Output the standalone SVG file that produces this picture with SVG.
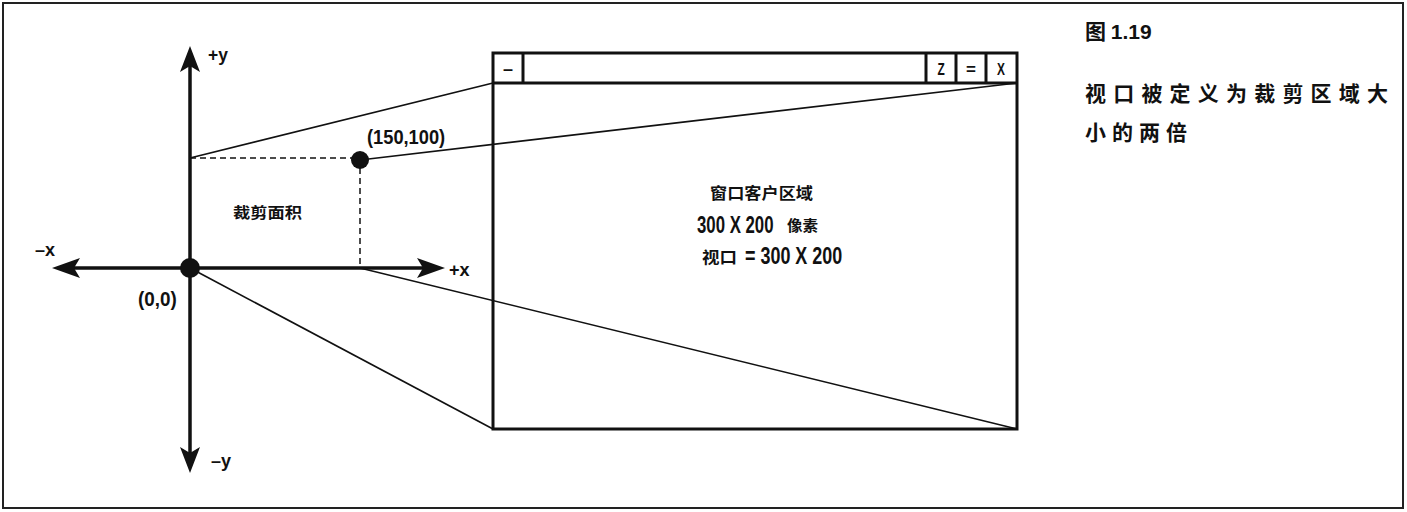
<svg xmlns="http://www.w3.org/2000/svg" width="1407" height="512" viewBox="0 0 1407 512">
<style>
.lbl{font-family:"Liberation Sans","DejaVu Sans",sans-serif;font-weight:bold;fill:#111}
.cjk{font-family:"Noto Sans CJK SC",sans-serif;font-weight:bold;fill:#111}
.axis{stroke:#111;stroke-width:3.5;fill:none}
.thin{stroke:#111;stroke-width:1.6;fill:none}
.dash{stroke:#111;stroke-width:1.5;stroke-dasharray:6,4;fill:none}
.win{stroke:#111;stroke-width:3;fill:#fff}
.head{fill:#111}
</style>
<rect x="0" y="0" width="1407" height="512" fill="#fff"/>
<rect x="3" y="3" width="1400" height="505" fill="none" stroke="#222" stroke-width="2"/>

<g id="window">
  <rect class="win" x="493" y="53" width="524" height="376"/>
  <line class="win" x1="493" y1="83" x2="1017" y2="83"/>
  <line class="win" x1="523" y1="53" x2="523" y2="83"/>
  <line class="win" x1="926" y1="53" x2="926" y2="83"/>
  <line class="win" x1="956" y1="53" x2="956" y2="83"/>
  <line class="win" x1="986" y1="53" x2="986" y2="83"/>
  <text class="lbl" x="508" y="75" font-size="18" text-anchor="middle">–</text>
  <text class="lbl" transform="translate(941,75) scale(0.7,1)" font-size="17" text-anchor="middle">Z</text>
  <text class="lbl" x="971" y="75" font-size="17" text-anchor="middle">=</text>
  <text class="lbl" transform="translate(1001,75) scale(0.7,1)" font-size="17" text-anchor="middle">X</text>
  <text class="cjk" x="710" y="199" font-size="16" textLength="103" lengthAdjust="spacingAndGlyphs">窗口客户区域</text>
  <text class="lbl" transform="translate(697,233) scale(0.73,1)" font-size="23">300 X 200</text>
  <text class="cjk" x="787" y="231" font-size="15" textLength="31" lengthAdjust="spacingAndGlyphs">像素</text>
  <text class="cjk" x="702" y="263" font-size="16" textLength="35" lengthAdjust="spacingAndGlyphs">视口</text>
  <text class="lbl" transform="translate(745,264) scale(0.78,1)" font-size="23">= 300 X 200</text>
</g>

<g id="connectors">
  <line class="thin" x1="190" y1="158" x2="493" y2="83"/>
  <line class="thin" x1="360" y1="160" x2="1017" y2="83"/>
  <line class="thin" x1="190" y1="268" x2="493" y2="429"/>
  <line class="thin" x1="360" y1="268" x2="1017" y2="429"/>
  <line class="dash" x1="190" y1="158" x2="352" y2="158"/>
  <line class="dash" x1="360" y1="168" x2="360" y2="268"/>
</g>

<g id="axes">
  <line class="axis" x1="190" y1="64" x2="190" y2="456"/>
  <line class="axis" x1="72" y1="268" x2="426" y2="268"/>
  <path class="head" d="M190,46 L200,72 L190,66 L180,72 Z"/>
  <path class="head" d="M190,473 L180,447 L190,453 L200,447 Z"/>
  <path class="head" d="M52,268 L80,258 L74,268 L80,278 Z"/>
  <path class="head" d="M445,268 L417,258 L423,268 L417,278 Z"/>
  <text class="lbl" transform="translate(208,61) scale(0.92,1)" font-size="19">+y</text>
  <text class="lbl" transform="translate(35,256) scale(0.95,1)" font-size="19">–x</text>
  <text class="lbl" transform="translate(449,276) scale(0.95,1)" font-size="19">+x</text>
  <text class="lbl" transform="translate(211,467) scale(0.95,1)" font-size="19">–y</text>
</g>

<g id="origin">
  <circle cx="190" cy="268" r="10" fill="#111"/>
  <text class="lbl" transform="translate(138,306) scale(0.9,1)" font-size="21">(0,0)</text>
</g>

<g id="point">
  <circle cx="360" cy="160" r="9" fill="#111"/>
  <text class="lbl" transform="translate(367,144) scale(0.87,1)" font-size="21">(150,100)</text>
</g>

<g id="clip-area">
  <text class="cjk" x="233" y="218" font-size="15" textLength="69" lengthAdjust="spacingAndGlyphs">裁剪面积</text>
</g>

<g id="caption">
  <text class="cjk" x="1085" y="39" font-size="21">图 <tspan class="lbl" font-size="21">1.19</tspan></text>
  <text class="cjk" x="1085" y="101" font-size="21" textLength="303" lengthAdjust="spacing">视口被定义为裁剪区域大</text>
  <text class="cjk" x="1085" y="140" font-size="21" textLength="102" lengthAdjust="spacing">小的两倍</text>
</g>
</svg>
